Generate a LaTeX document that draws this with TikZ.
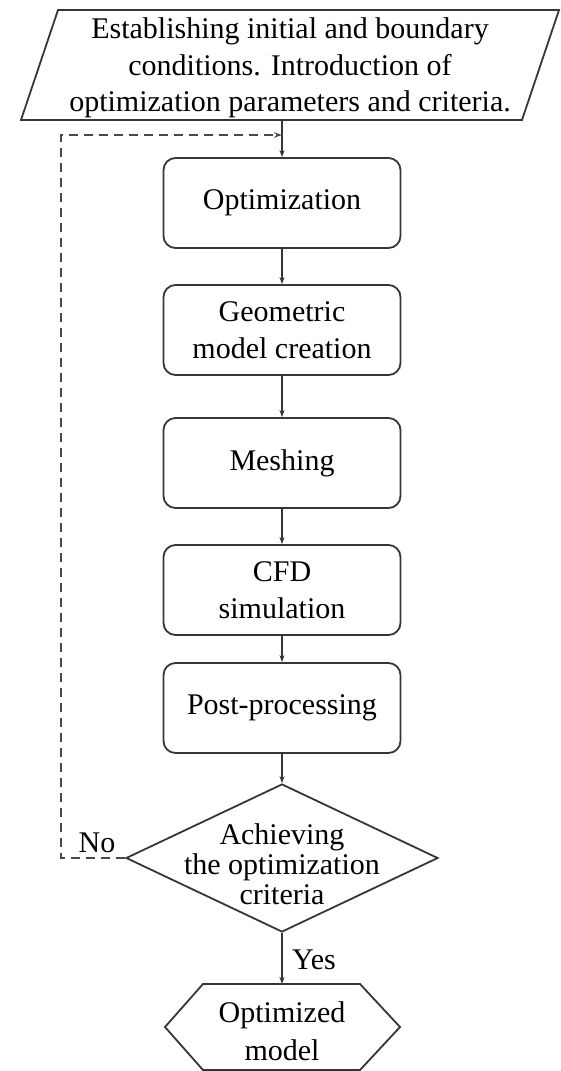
\documentclass[tikz,border=0pt]{standalone}
\usepackage{fontspec}
\setmainfont{Liberation Serif}
\usetikzlibrary{shapes.geometric,arrows.meta}
\definecolor{ln}{HTML}{363636}
\definecolor{dl}{HTML}{484848}
\begin{document}
\begin{tikzpicture}[x=1pt,y=-1pt,
  box/.style={draw=ln, line width=1.8pt, rounded corners=12pt, minimum width=237pt, minimum height=90pt, inner sep=0pt, align=center, font=\fontsize{30}{36.5}\selectfont},
  txt/.style={align=center, inner sep=0pt, font=\fontsize{30}{36.5}\selectfont},
  outline/.style={draw=ln, line width=1.8pt, line join=miter},
  flow/.style={draw=ln, line width=1.2pt, -{Stealth[length=7pt,width=5pt]}},
  back/.style={draw=dl, line width=1.7pt, dash pattern=on 9pt off 6pt, -{Stealth[length=8pt,width=5.5pt]}},
  lbl/.style={inner sep=0pt, font=\fontsize{30}{36}\selectfont}]
\useasboundingbox (0,0) rectangle (560,1071);

% input / start parallelogram
\draw[outline] (58,10) -- (559,10) -- (522,120) -- (21,120) -- cycle;
\node[txt] (start) at (290,68) {Establishing initial and boundary\\conditions. Introduction of\hspace*{38pt}\\optimization parameters and criteria.};
\coordinate (startB) at (282,120);

% process boxes
\node[box] (opt)  at (282,203) {Optimization};
\node[box] (geo)  at (282,330) {Geometric\\model creation};
\node[box] (mesh) at (282,463) {Meshing};
\node[box] (cfd)  at (282,590) {CFD\\simulation};
\node[box] (post) at (282,708) {Post-processing};

% decision
\node[diamond, outline, minimum width=312pt, minimum height=148pt, inner sep=0pt] (dec) at (282,858) {};
\node[txt, font=\fontsize{30}{30}\selectfont] (dect) at (282,864) {Achieving\\the optimization\\criteria};

% result hexagon
\draw[outline] (203,984) -- (360,984) -- (400,1027) -- (360,1070) -- (203,1070) -- (165,1027) -- cycle;
\node[txt, font=\fontsize{30}{38}\selectfont] (res) at (282,1031) {Optimized\\model};
\coordinate (resT) at (282,984);

% connectors
\draw[flow] (startB) -- (opt.north);
\draw[flow] (opt) -- (geo);
\draw[flow] (geo) -- (mesh);
\draw[flow] (mesh) -- (cfd);
\draw[flow] (cfd) -- (post);
\draw[flow] (post) -- (dec.north);
\draw[flow] (dec.south) -- (resT);

% feedback loop
\coordinate (loopB) at (61,858);
\coordinate (loopT) at (61,135);
\coordinate (join) at (282,135);
\draw[back] (dec.west) -- (loopB) -- (loopT) -- (join);

% labels
\node[lbl] (no) at (97,843) {No};
\node[lbl] (yes) at (314,960) {Yes};
\end{tikzpicture}
\end{document}
